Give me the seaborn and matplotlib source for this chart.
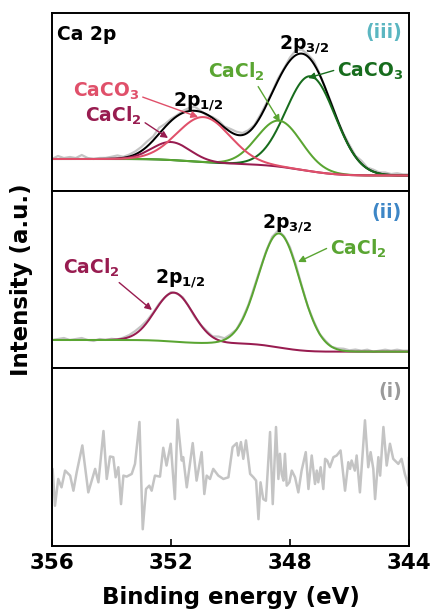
import math
import numpy as np
import matplotlib
matplotlib.use("Agg")
import matplotlib.pyplot as plt
import seaborn as sns

# ---------------- data ----------------
# panel (iii): Ca 2p fit components (centre eV, height a.u., FWHM eV)
iii_labels = ["CaCl2 2p1/2", "CaCO3 2p1/2", "CaCl2 2p3/2", "CaCO3 2p3/2"]
iii_centers = [352.0, 350.9, 348.36, 347.3]
iii_heights = [18, 45, 46, 95]
iii_fwhm = [1.5, 2.1, 1.75, 1.95]
iii_bg = [32.0, 15.5]          # background level at 356 eV and at 344 eV
iii_resid = [0, 3, 1, 2, 1, 4, 1, 0, 1, 1, 2, 3, 1, 2, 3, 4, 5, 4, 6, 3,
             2, 1, 2, 3, 4, 1, -1, 1, 2, 1, 3, 3, 2, 2, 1, 2, 2, 1, 2, 1,
             3, 5, 4, 2, 3, 1, 0, 1, 0, 1, 2, 1, 3, 1, 2, 1, 2, 1, 2, 1, 1]

# panel (ii): CaCl2 only
ii_labels = ["CaCl2 2p1/2", "CaCl2 2p3/2"]
ii_centers = [351.9, 348.36]
ii_heights = [49, 114]
ii_fwhm = [1.5, 1.65]
ii_bg = [28.0, 16.3]
ii_resid = [0, 1, 2, 0, 1, 2, 0, -1, 1, 0, 1, 0, 1, 2, 3, 3, 2, 1, 1, 0,
            1, 0, 1, 0, -1, 0, 1, 0, 2, 0, 1, 0, 1, 1, 2, 1, 1, 2, 3, 1,
            2, 2, 1, 0, 1, 0, 1, 0, 1, 2, 1, 2, 1, 2, 0, 1, 2, 1, 2, 1, 1]

# panel (i): raw noisy spectrum
i_energy = [355.98, 355.90, 355.79, 355.68, 355.56, 355.39, 355.28, 355.17, 354.98, 354.78,
            354.55, 354.44, 354.27, 354.16, 354.05, 353.94, 353.86, 353.77, 353.68, 353.60,
            353.49, 353.32, 353.21, 353.06, 352.95, 352.84, 352.73, 352.65, 352.54, 352.37,
            352.26, 352.15, 352.01, 351.87, 351.78, 351.64, 351.59, 351.47, 351.27, 351.14,
            350.97, 350.88, 350.80, 350.69, 350.58, 350.41, 350.24, 350.07, 349.93, 349.79,
            349.74, 349.65, 349.57, 349.48, 349.34, 349.23, 349.14, 349.06, 348.99, 348.90,
            348.81, 348.67, 348.58, 348.47, 348.39, 348.34, 348.28, 348.22, 348.17, 348.11,
            348.02, 347.94, 347.83, 347.72, 347.61, 347.47, 347.38, 347.27, 347.16, 347.10,
            347.05, 346.97, 346.88, 346.82, 346.75, 346.66, 346.54, 346.43, 346.30, 346.15,
            346.04, 345.98, 345.93, 345.82, 345.76, 345.65, 345.48, 345.37, 345.29, 345.20,
            345.14, 345.03, 344.97, 344.86, 344.75, 344.64, 344.53, 344.36, 344.25, 344.14,
            344.02, 344.00]
i_intensity = [2.30, 1.20, 2.00, 1.75, 2.25, 2.10, 1.65, 2.20, 3.00, 1.60,
               2.30, 1.90, 3.43, 2.00, 2.67, 2.65, 2.05, 2.35, 1.25, 2.10,
               2.07, 2.15, 2.45, 3.70, 0.50, 1.70, 1.80, 1.65, 2.10, 2.07,
               2.93, 2.40, 3.05, 1.40, 3.77, 2.55, 2.65, 1.75, 3.07, 1.95,
               2.80, 1.55, 2.10, 2.00, 2.30, 2.10, 2.00, 2.05, 2.95, 3.07,
               2.70, 3.10, 2.60, 3.15, 2.15, 2.05, 1.95, 0.80, 1.90, 1.40,
               1.35, 3.40, 1.25, 3.55, 2.00, 2.75, 2.15, 1.95, 2.75, 1.80,
               1.90, 2.25, 2.05, 1.60, 2.25, 2.80, 1.70, 2.70, 1.85, 2.25,
               1.90, 2.35, 1.70, 2.60, 2.55, 2.35, 2.65, 2.70, 2.85, 1.65,
               2.50, 2.30, 2.55, 2.25, 2.70, 1.60, 3.75, 2.35, 2.80, 2.30,
               1.40, 2.65, 2.10, 3.55, 2.40, 3.05, 2.60, 2.45, 2.60, 2.15,
               1.80, 2.65]

x_ticks = [356, 352, 348, 344]

# ---------------- styling ----------------
sns.set_style("white")
plt.rcParams["font.family"] = ["DejaVu Sans"]
plt.rcParams["font.weight"] = "bold"
plt.rcParams["mathtext.default"] = "bf"
plt.rcParams["mathtext.fontset"] = "dejavusans"
plt.rcParams["text.color"] = "black"
plt.rcParams["axes.labelcolor"] = "black"
plt.rcParams["xtick.color"] = "black"

C_MAROON = "#981c50"
C_PINK = "#e0506a"
C_LGREEN = "#5aa532"
C_DGREEN = "#176c1d"
C_RAW = "#c4c4c4"
FS = 13.5

_erf = np.vectorize(math.erf)


def gauss(E, c, h, fwhm):
    s = fwhm / 2.3548
    return h * np.exp(-0.5 * ((E - c) / s) ** 2)


def shirley(E, centers, heights, fwhms, bg):
    areas, frac = 0.0, np.zeros_like(E)
    for c, h, f in zip(centers, heights, fwhms):
        s = f / 2.3548
        a = h * s
        frac = frac + a * 0.5 * (1 + _erf((E - c) / (s * math.sqrt(2))))
        areas += a
    return bg[1] + (bg[0] - bg[1]) * frac / areas


def model(E, centers, heights, fwhms, bg):
    b = shirley(E, centers, heights, fwhms, bg)
    comps = [b + gauss(E, c, h, f) for c, h, f in zip(centers, heights, fwhms)]
    env = b + sum(gauss(E, c, h, f) for c, h, f in zip(centers, heights, fwhms))
    return b, comps, env


E = np.linspace(344, 356, 1201)
E_raw = np.linspace(356, 344, len(iii_resid))

fig = plt.figure(figsize=(4.34, 6.16), dpi=100)
W, H = 434, 616
L, R = 52, 409


def add_ax(top, bottom):
    return fig.add_axes([L / W, 1 - bottom / H, (R - L) / W, (bottom - top) / H])


ax3 = add_ax(13, 191)
ax2 = add_ax(191, 368)
ax1 = add_ax(368, 546)

lw = 1.45
arrow_kw = dict(arrowstyle="-|>", lw=1.0, mutation_scale=10, shrinkA=0, shrinkB=0)

# ---------- panel (iii) ----------
b3, comps3, env3 = model(E, iii_centers, iii_heights, iii_fwhm, iii_bg)
_, _, env3_raw = model(E_raw, iii_centers, iii_heights, iii_fwhm, iii_bg)
sns.lineplot(x=E_raw, y=env3_raw + np.array(iii_resid), ax=ax3, color=C_RAW, lw=1.6,
             estimator=None, sort=False)
sns.lineplot(x=E, y=env3, ax=ax3, color="black", lw=lw, estimator=None, sort=False)
for comp, col in zip([comps3[3], comps3[2], comps3[0], comps3[1]],
                     [C_DGREEN, C_LGREEN, C_MAROON, C_PINK]):
    sns.lineplot(x=E, y=comp, ax=ax3, color=col, lw=lw, estimator=None, sort=False)
ax3.set_ylim(0, 178)

ax3.text(0.014, 0.848, "Ca 2p", transform=ax3.transAxes, fontsize=FS, ha="left", va="baseline")
ax3.text(0.98, 0.86, "(iii)", transform=ax3.transAxes, fontsize=FS, ha="right", va="baseline",
         color="#5bb6c1")
ax3.text(347.53, 142, r"2p$_{3/2}$", fontsize=FS, ha="center", va="baseline")
ax3.text(351.09, 85, r"2p$_{1/2}$", fontsize=FS, ha="center", va="baseline")
ax3.annotate(r"CaCO$_3$", xy=(347.39, 113), xytext=(346.42, 114), fontsize=FS,
             color=C_DGREEN, ha="left", va="baseline",
             arrowprops=dict(color=C_DGREEN, relpos=(0, 0.6), **arrow_kw))
ax3.annotate(r"CaCl$_2$", xy=(348.34, 69), xytext=(350.76, 113), fontsize=FS,
             color=C_LGREEN, ha="left", va="baseline",
             arrowprops=dict(color=C_LGREEN, relpos=(0.85, 0.0), **arrow_kw))
ax3.annotate(r"CaCO$_3$", xy=(351.09, 74), xytext=(355.29, 94), fontsize=FS,
             color=C_PINK, ha="left", va="baseline",
             arrowprops=dict(color=C_PINK, relpos=(1.0, 0.3), **arrow_kw))
ax3.annotate(r"CaCl$_2$", xy=(352.10, 53), xytext=(354.89, 69), fontsize=FS,
             color=C_MAROON, ha="left", va="baseline",
             arrowprops=dict(color=C_MAROON, relpos=(1.0, 0.3), **arrow_kw))

# ---------- panel (ii) ----------
b2, comps2, env2 = model(E, ii_centers, ii_heights, ii_fwhm, ii_bg)
_, _, env2_raw = model(E_raw, ii_centers, ii_heights, ii_fwhm, ii_bg)
sns.lineplot(x=E_raw, y=env2_raw + np.array(ii_resid), ax=ax2, color=C_RAW, lw=1.6,
             estimator=None, sort=False)
sns.lineplot(x=E, y=comps2[0], ax=ax2, color=C_MAROON, lw=lw, estimator=None, sort=False)
sns.lineplot(x=E, y=comps2[1], ax=ax2, color=C_LGREEN, lw=lw, estimator=None, sort=False)
ax2.set_ylim(0, 177)

ax2.text(0.98, 0.847, "(ii)", transform=ax2.transAxes, fontsize=FS, ha="right", va="baseline",
         color="#3d86c6")
ax2.text(348.10, 140, r"2p$_{3/2}$", fontsize=FS, ha="center", va="baseline")
ax2.text(351.70, 85, r"2p$_{1/2}$", fontsize=FS, ha="center", va="baseline")
ax2.annotate(r"CaCl$_2$", xy=(347.73, 106), xytext=(346.66, 113), fontsize=FS,
             color=C_LGREEN, ha="left", va="baseline",
             arrowprops=dict(color=C_LGREEN, relpos=(0, 0.6), **arrow_kw))
ax2.annotate(r"CaCl$_2$", xy=(352.64, 58), xytext=(355.63, 94), fontsize=FS,
             color=C_MAROON, ha="left", va="baseline",
             arrowprops=dict(color=C_MAROON, relpos=(0.92, 0.0), **arrow_kw))

# ---------- panel (i) ----------
sns.lineplot(x=i_energy, y=i_intensity, ax=ax1, color=C_RAW, lw=1.8, estimator=None, sort=False)
ax1.set_ylim(0, 5.31)
ax1.text(0.98, 0.837, "(i)", transform=ax1.transAxes, fontsize=FS, ha="right", va="baseline",
         color="#9a9a9a")

# ---------- axes formatting ----------
for ax in (ax3, ax2, ax1):
    ax.set_xlim(356, 344)
    ax.set_yticks([])
    ax.set_xlabel("")
    ax.set_ylabel("")
    for sp in ax.spines.values():
        sp.set_visible(True)
        sp.set_color("black")
        sp.set_linewidth(1.4)
for ax in (ax3, ax2):
    ax.set_xticks([])

ax1.set_xticks(x_ticks)
ax1.set_xticklabels([str(t) for t in x_ticks], fontsize=15.5, fontweight="bold")
ax1.tick_params(axis="x", direction="in", length=5, width=1.2, pad=5, bottom=True,
                colors="black")

fig.text((L + R) / 2 / W, 1 - 604 / H, "Binding energy (eV)", fontsize=16.5,
         ha="center", va="baseline", color="black")
fig.text(22 / W, 1 - 280 / H, "Intensity (a.u.)", fontsize=16.5, rotation=90,
         ha="center", va="center", color="black")

fig.savefig("out.png", dpi=100)
